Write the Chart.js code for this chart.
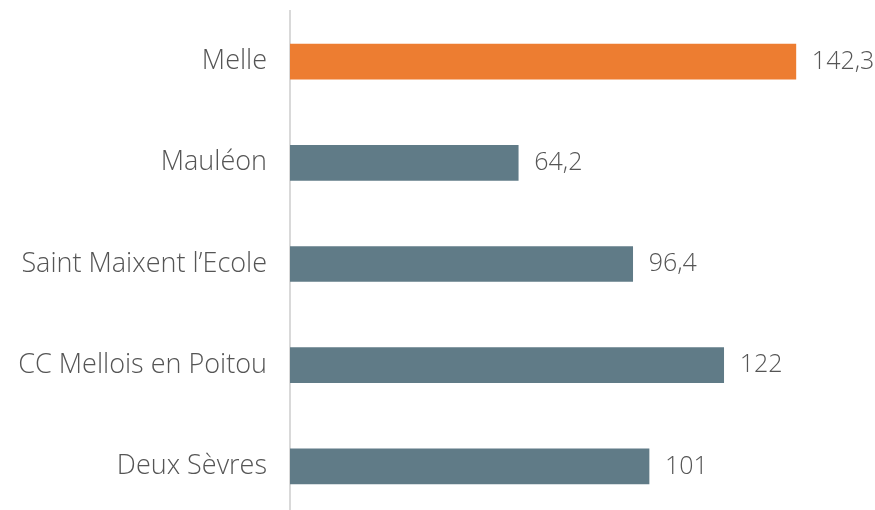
<!DOCTYPE html>
<html>
<head>
    <meta charset="utf-8">
    <title>Bar Chart</title>
    <script src="https://cdn.jsdelivr.net/npm/chart.js@4/dist/chart.umd.min.js"></script>
    <style>
        html, body { margin: 0; padding: 0; overflow: hidden; background: #fff; }
        #wrap { position: relative; width: 875px; height: 517px; }
    </style>
</head>
<body>
    <div id="wrap">
        <canvas id="myChart"></canvas>
    </div>
    <script>
        var categories = ['Melle', 'Mauléon', 'Saint Maixent l\u2019Ecole', 'CC Mellois en Poitou', 'Deux Sèvres'];
        var values = [142.3, 64.2, 96.4, 122, 101];
        var valueLabels = ['142,3', '64,2', '96,4', '122', '101'];
        var barColors = ['#ED7D31', '#607B87', '#607B87', '#607B87', '#607B87'];

        var fontFamily = "'Open Sans', sans-serif";
        var textColor = '#555555';

        // draws the value next to the end of each bar
        var valueLabelPlugin = {
            id: 'valueLabels',
            afterDatasetsDraw: function(chart) {
                var ctx = chart.ctx;
                var meta = chart.getDatasetMeta(0);
                ctx.save();
                ctx.font = '300 25px ' + fontFamily;
                ctx.fillStyle = textColor;
                ctx.textAlign = 'left';
                ctx.textBaseline = 'middle';
                meta.data.forEach(function(bar, i) {
                    ctx.fillText(valueLabels[i], bar.x + 16, bar.y);
                });
                ctx.restore();
            }
        };

        var ctx = document.getElementById('myChart').getContext('2d');
        var myChart = new Chart(ctx, {
            type: 'bar',
            data: {
                labels: categories,
                datasets: [{
                    data: values,
                    backgroundColor: barColors,
                    barThickness: 35
                }]
            },
            options: {
                indexAxis: 'y',
                responsive: true,
                maintainAspectRatio: false,
                animation: false,
                layout: { padding: { top: 11, right: 2, bottom: 0, left: 0 } },
                plugins: {
                    legend: { display: false },
                    tooltip: { enabled: false }
                },
                scales: {
                    x: {
                        display: false,
                        min: 0,
                        max: 164
                    },
                    y: {
                        grid: { display: false, drawTicks: false },
                        border: { color: '#D9D9D9', width: 2 },
                        ticks: {
                            padding: 23,
                            color: textColor,
                            font: { family: fontFamily, size: 27, weight: '300' }
                        },
                        afterFit: function(scale) {
                            // fixed axis position, no extra room above/below
                            scale.width = 290;
                            scale.paddingTop = 0;
                            scale.paddingBottom = 0;
                        }
                    }
                }
            },
            plugins: [valueLabelPlugin]
        });
    </script>
</body>
</html>
